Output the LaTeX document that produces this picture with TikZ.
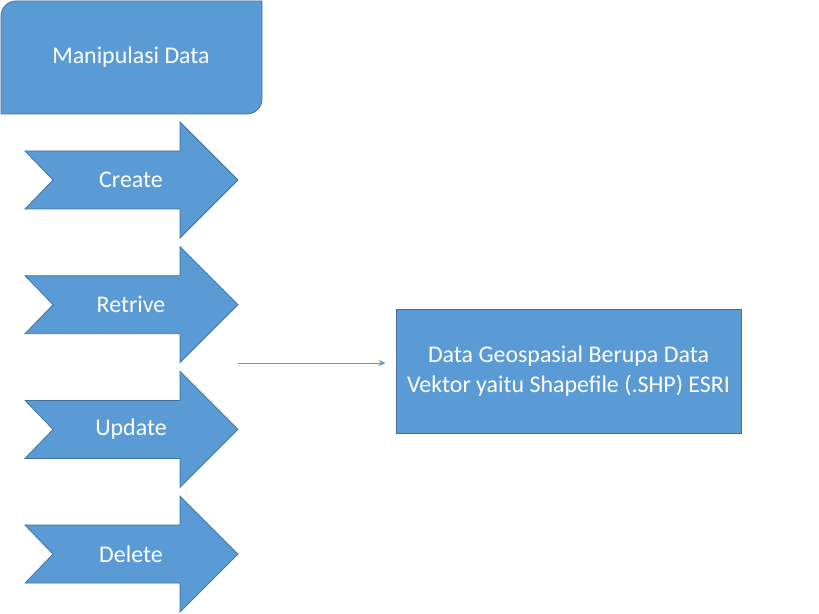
\documentclass[tikz,border=0pt]{standalone}
\usepackage{fontspec}
\setmainfont{Carlito}
\usetikzlibrary{arrows.meta}
\definecolor{isibiru}{HTML}{5B9BD5}
\definecolor{garisbiru}{HTML}{41719C}

\begin{document}
\begin{tikzpicture}[x=1bp,y=1bp,
	blok/.style={fill=isibiru,draw=garisbiru,line width=0.75bp},
	teks/.style={text=white,font=\fontsize{24}{30}\selectfont,inner sep=0pt},
	kotak/.style={blok,minimum width=345bp,minimum height=124bp,align=center,text=white,font=\fontsize{24}{30}\selectfont}]
  					\useasboundingbox (0,0) rectangle (819,-614);
  					\draw[blok] (1,-114) -- (1,-16) arc[start angle=180,end angle=90,radius=15bp] -- (262,-1) -- (262,-99) arc[start angle=0,end angle=-90,radius=15bp] -- cycle;
  					\node[teks] (manip) at (131,-57) {Manipulasi Data};
  					\foreach \lbl [count=\i] in {Create,Retrive,Update,Delete} {
  						\pgfmathsetmacro\cy{-180-124.7*(\i-1)}
  						\draw[blok] (25,\cy+29) -- (180,\cy+29) -- (180,\cy+58) -- (238,\cy) -- (180,\cy-58) -- (180,\cy-29) -- (25,\cy-29) -- (53,\cy) -- cycle;
  						\node[teks] (panah\i) at (131,\cy) {\lbl};
  					}
  					\node[kotak] (geo) at (568.5,-371) {Data Geospasial Berupa Data\\Vektor yaitu Shapefile (.SHP) ESRI};
  					\coordinate (awal) at (238,-363);
  					\draw[isibiru,line width=0.75bp,-{Stealth[length=7bp,width=6bp]},shorten >=10bp] (awal) -- (awal -| geo.west);
  				\end{tikzpicture}
\end{document}
